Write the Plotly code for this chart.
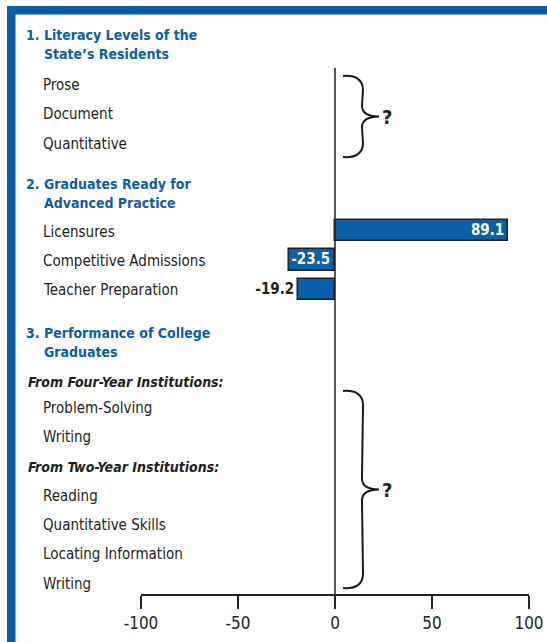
import plotly.graph_objects as go

# ---------------- data ----------------
section_titles = ["1. Literacy Levels of the", "2. Graduates Ready for", "3. Performance of College"]
section_titles_2 = ["State\u2019s Residents", "Advanced Practice", "Graduates"]
subgroup_titles = ["From Four-Year Institutions:", "From Two-Year Institutions:"]

literacy_labels = ["Prose", "Document", "Quantitative"]
graduate_labels = ["Licensures", "Competitive Admissions", "Teacher Preparation"]
graduate_values = [89.1, -23.5, -19.2]
four_year_labels = ["Problem-Solving", "Writing"]
two_year_labels = ["Reading", "Quantitative Skills", "Locating Information", "Writing"]

x_ticks = [-100, -50, 0, 50, 100]

# ---------------- layout constants ----------------
W, H = 547, 642
ML, MR, MT, MB = 141, 18, 15, 48
BLUE = "#0b5ea8"
TXT = "#231f20"
FONT = "DejaVu Sans Condensed, Liberation Sans Narrow, Arial Narrow, sans-serif"

ROW0_PX = 84.0      # pixel of first data row
ROW_PX = 29.35      # pixel per row
Y_TOP = (MT - ROW0_PX) / ROW_PX
Y_BOT = (H - MB - ROW0_PX) / ROW_PX
PW = W - ML - MR


def px_x(p):
    return (p - ML) / PW * 200 - 100


def px_y(p):
    return (p - ROW0_PX) / ROW_PX


def paper_x(p):
    return (p - ML) / PW


def paper_y(p):
    return (H - MB - p) / (H - MT - MB)


# slot structure: heading=2 slots, subgroup=1 slot, row=1 slot
slot = -2
heading_slots = []
sub_slots = []
rows = []  # (label, slot, value)

heading_slots.append(slot); slot += 2
for lab in literacy_labels:
    rows.append((lab, slot, None)); slot += 1
heading_slots.append(slot); slot += 2
for lab, v in zip(graduate_labels, graduate_values):
    rows.append((lab, slot, v)); slot += 1
heading_slots.append(slot); slot += 2
sub_slots.append(slot); slot += 1
for lab in four_year_labels:
    rows.append((lab, slot, None)); slot += 1
sub_slots.append(slot); slot += 1
for lab in two_year_labels:
    rows.append((lab, slot, None)); slot += 1

bar_rows = [r for r in rows if r[2] is not None]
bar_y = [r[1] for r in bar_rows]
bar_x = [r[2] for r in bar_rows]
bar_text = ["{:.1f}".format(v) for v in bar_x]
bar_pos = ["inside", "inside", "outside"]

fig = go.Figure()
fig.add_trace(go.Bar(
    x=bar_x, y=bar_y, orientation="h", width=0.73,
    marker=dict(color=BLUE, line=dict(color="#222", width=1.5)),
    text=bar_text, textposition=bar_pos, insidetextanchor="end",
    constraintext="none", cliponaxis=False,
    insidetextfont=dict(family=FONT, size=15, color="white", weight="bold"),
    outsidetextfont=dict(family=FONT, size=15, color=TXT, weight="bold"),
    hoverinfo="skip", showlegend=False,
))

annotations = []
for lab, s, v in rows:
    annotations.append(dict(text=lab, x=paper_x(41), xref="paper", y=s + 0.03, yref="y",
                            xanchor="left", yanchor="middle", showarrow=False,
                            font=dict(family=FONT, size=15, color=TXT)))

heading_off = [0.65, 0.73, 0.80]
for i, s in enumerate(heading_slots):
    yc = s + heading_off[i]
    annotations.append(dict(text="<b>" + section_titles[i] + "</b>", x=paper_x(23.5), xref="paper",
                            y=yc - 0.32, yref="y", xanchor="left", yanchor="middle", showarrow=False,
                            font=dict(family=FONT, size=14, color=BLUE)))
    annotations.append(dict(text="<b>" + section_titles_2[i] + "</b>", x=paper_x(41.5), xref="paper",
                            y=yc + 0.32, yref="y", xanchor="left", yanchor="middle", showarrow=False,
                            font=dict(family=FONT, size=14, color=BLUE)))

sub_off = [0.14, 0.06]
for i, s in enumerate(sub_slots):
    annotations.append(dict(text="<b><i>" + subgroup_titles[i] + "</i></b>", x=paper_x(26), xref="paper",
                            y=s + sub_off[i], yref="y", xanchor="left", yanchor="middle", showarrow=False,
                            font=dict(family=FONT, size=14, color=TXT)))

# braces with question marks
def brace_path(y0, y1, xl=343, xs=363, xt=379):
    ym = (y0 + y1) / 2
    pts = [
        ("M", [(xl, y0)]),
        ("C", [(xl + 13, y0 - 1), (xs, y0 + 4), (xs, y0 + 14)]),
        ("L", [(xs - 1, ym - 11)]),
        ("C", [(xs - 1, ym - 3), (xs + 5, ym), (xt, ym)]),
        ("C", [(xs + 5, ym), (xs - 1, ym + 3), (xs - 1, ym + 11)]),
        ("L", [(xs, y1 - 14)]),
        ("C", [(xs, y1 - 4), (xl + 13, y1 + 1), (xl, y1)]),
    ]
    out = []
    for cmd, ps in pts:
        out.append(cmd + " " + " ".join("{:.4f},{:.4f}".format(px_x(a), px_y(b)) for a, b in ps))
    return " ".join(out)

shapes = []
brace_spans = [(76, 157), (391, 588)]
for y0, y1 in brace_spans:
    shapes.append(dict(type="path", path=brace_path(y0, y1), xref="x", yref="y",
                       line=dict(color="#1a1a1a", width=2)))
    annotations.append(dict(text="<b>?</b>", x=px_x(387), xref="x", y=px_y((y0 + y1) / 2), yref="y",
                            xanchor="center", yanchor="middle", showarrow=False,
                            font=dict(family=FONT, size=20, color=TXT)))

# zero line
shapes.append(dict(type="line", x0=0, x1=0, xref="x", y0=-0.55, y1=Y_BOT, yref="y",
                   line=dict(color="#222", width=1.5)))

# blue frame
shapes.append(dict(type="rect", xref="paper", yref="paper",
                   x0=paper_x(7), x1=paper_x(15.5), y0=paper_y(H), y1=paper_y(6),
                   fillcolor=BLUE, line=dict(width=0), layer="above"))
shapes.append(dict(type="rect", xref="paper", yref="paper",
                   x0=paper_x(7), x1=paper_x(W), y0=paper_y(14.5), y1=paper_y(6),
                   fillcolor=BLUE, line=dict(width=0), layer="above"))

fig.update_layout(
    width=W, height=H, autosize=False,
    margin=dict(l=ML, r=MR, t=MT, b=MB, pad=0, autoexpand=False),
    paper_bgcolor="white", plot_bgcolor="white",
    font=dict(family=FONT, color=TXT),
    xaxis=dict(range=[-100, 100], tickvals=x_ticks, ticktext=[str(t) for t in x_ticks],
               ticks="outside", ticklen=13, tickwidth=1.5, tickcolor="#222",
               showline=True, linecolor="#222", linewidth=1.5, showgrid=False, zeroline=False,
               automargin=False,
               tickfont=dict(family=FONT, size=17, color=TXT), fixedrange=True),
    yaxis=dict(range=[Y_BOT, Y_TOP], visible=False, showgrid=False, zeroline=False,
               automargin=False, fixedrange=True),
    annotations=annotations, shapes=shapes,
    bargap=0,
)

fig.write_html("out.html", config={"displayModeBar": False})
